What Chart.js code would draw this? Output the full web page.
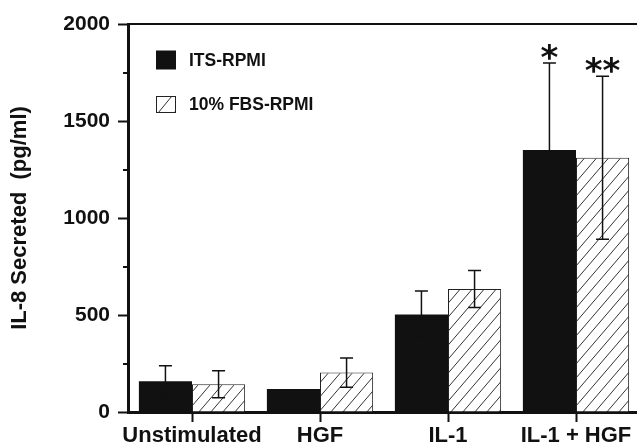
<!DOCTYPE html>
<html><head><meta charset="utf-8">
<script src="https://cdn.jsdelivr.net/npm/chart.js@4/dist/chart.umd.min.js"></script>
<style>html,body{margin:0;padding:0;overflow:hidden;background:#fff}canvas{display:block}</style>
</head><body>
<canvas id="c" width="650" height="445"></canvas>
<script>
const categories = ['Unstimulated', 'HGF', 'IL-1', 'IL-1 + HGF'];
const seriesNames = ['ITS-RPMI', '10% FBS-RPMI'];
const itsValues = [158, 118, 503, 1350];
const itsErrors = [81, 0, 121, 449];
const fbsValues = [143, 203, 634, 1311];
const fbsErrors = [69, 75, 95, 420];
const itsMarks = ['', '', '', '*'];
const fbsMarks = ['', '', '', '**'];
const yTickValues = [0, 500, 1000, 1500, 2000];
const yMinorValues = [250, 750, 1250, 1750];
const yTitle = 'IL-8 Secreted  (pg/ml)';

const INK = '#111';
const FONT = '"Liberation Sans", Arial, Helvetica, sans-serif';

function makeHatch() {
  const c = document.createElement('canvas');
  c.width = 12; c.height = 14;
  const g = c.getContext('2d');
  g.fillStyle = '#fff'; g.fillRect(0, 0, 12, 14);
  g.strokeStyle = '#333'; g.lineWidth = 1;
  for (const dx of [-12, 0, 12]) {
    g.beginPath(); g.moveTo(dx, 14); g.lineTo(dx + 12, 0); g.stroke();
  }
  return g.createPattern(c, 'repeat');
}
const hatch = makeHatch();

const errorsBySet = [itsErrors, fbsErrors];
const marksBySet = [itsMarks, fbsMarks];

const decorPlugin = {
  id: 'decor',
  afterDatasetsDraw(chart) {
    const ctx = chart.ctx;
    const ys = chart.scales.y;
    const ca = chart.chartArea;
    ctx.save();
    chart.data.datasets.forEach((ds, di) => {
      const meta = chart.getDatasetMeta(di);
      meta.data.forEach((bar, i) => {
        const v = ds.data[i], e = errorsBySet[di][i];
        const x = bar.x;
        const yT = ys.getPixelForValue(v + e);
        const yB = ys.getPixelForValue(v - e);
        if (e > 0) {
          ctx.strokeStyle = INK; ctx.lineWidth = 1.5;
          ctx.beginPath();
          ctx.moveTo(x, yT); ctx.lineTo(x, yB);
          ctx.moveTo(x - 6.5, yT); ctx.lineTo(x + 6.5, yT);
          ctx.moveTo(x - 6.5, yB); ctx.lineTo(x + 6.5, yB);
          ctx.stroke();
        }
        const m = marksBySet[di][i];
        if (m) {
          ctx.fillStyle = INK;
          ctx.font = 'bold 34px "DejaVu Sans", sans-serif';
          ctx.textAlign = 'center';
          ctx.textBaseline = 'alphabetic';
          const mt = ctx.measureText(m);
          const cy = yT - 11;
          ctx.fillText(m, x, cy + (mt.actualBoundingBoxAscent - mt.actualBoundingBoxDescent) / 2);
        }
      });
    });
    // top frame line
    ctx.strokeStyle = INK; ctx.lineWidth = 2;
    ctx.beginPath(); ctx.moveTo(ca.left, ca.top); ctx.lineTo(ca.right, ca.top); ctx.stroke();
    // minor y ticks
    ctx.lineWidth = 2;
    yMinorValues.forEach(v => {
      const y = Math.round(ys.getPixelForValue(v));
      ctx.beginPath(); ctx.moveTo(ca.left - 5, y); ctx.lineTo(ca.left, y); ctx.stroke();
    });
    // legend
    ctx.font = 'bold 17.5px ' + FONT;
    ctx.textAlign = 'left'; ctx.textBaseline = 'middle';
    const lx = ca.left + 28;
    const rows = [ca.top + 36, ca.top + 80.5];
    chart.data.datasets.forEach((ds, di) => {
      const cy = rows[di];
      if (di === 0) {
        ctx.fillStyle = ds.backgroundColor;
        ctx.fillRect(lx, cy - 9.5, 20, 19);
      } else {
        const bx = lx, by = cy - 8.5, bw = 20, bh = 17;
        ctx.fillStyle = '#fff'; ctx.fillRect(bx, by, bw, bh);
        ctx.save();
        ctx.beginPath(); ctx.rect(bx, by, bw, bh); ctx.clip();
        ctx.strokeStyle = '#333'; ctx.lineWidth = 1;
        for (const k of [0, 1]) {
          ctx.beginPath(); ctx.moveTo(bx + 2 + k * 16, by + bh); ctx.lineTo(bx + 16 + k * 16, by); ctx.stroke();
        }
        ctx.restore();
        ctx.strokeStyle = '#222'; ctx.lineWidth = 1;
        ctx.strokeRect(bx + 0.5, by + 0.5, bw - 1, bh - 1);
      }
      ctx.fillStyle = INK;
      ctx.fillText(ds.label, lx + 33, cy + 1);
    });
    ctx.restore();
  }
};

new Chart(document.getElementById('c'), {
  type: 'bar',
  data: {
    labels: categories,
    datasets: [
      { label: seriesNames[0], data: itsValues, backgroundColor: INK, borderWidth: 0,
        categoryPercentage: 0.83, barPercentage: 1 },
      { label: seriesNames[1], data: fbsValues, backgroundColor: hatch, borderColor: '#222', borderWidth: 1,
        categoryPercentage: 0.83, barPercentage: 1 }
    ]
  },
  options: {
    responsive: false,
    animation: false,
    layout: { padding: { top: 24, right: 10, left: 0, bottom: 0 } },
    plugins: { legend: { display: false }, tooltip: { enabled: false } },
    scales: {
      x: {
        grid: { offset: false, drawOnChartArea: false, drawTicks: true, tickLength: 10, tickWidth: 2, tickColor: INK },
        border: { display: true, color: INK, width: 3 },
        ticks: { color: INK, font: { family: FONT, size: 22, weight: 'bold' }, padding: 1, maxRotation: 0, autoSkip: false },
        afterFit(s) { s.height = 33; }
      },
      y: {
        min: 0, max: 2000,
        afterBuildTicks(s) { s.ticks = yTickValues.map(v => ({ value: v })); },
        grid: { drawOnChartArea: false, drawTicks: true, tickLength: 10, tickWidth: 2, tickColor: INK },
        border: { display: true, color: INK, width: 3 },
        ticks: { color: INK, font: { family: FONT, size: 21, weight: 'bold' }, padding: 8, callback: v => String(v) },
        title: { display: true, text: yTitle, color: INK, font: { family: FONT, size: 22, weight: 'bold' }, padding: { top: 7, bottom: 0 } },
        afterFit(s) { s.width = 128; }
      }
    }
  },
  plugins: [decorPlugin]
});
</script>
</body></html>
